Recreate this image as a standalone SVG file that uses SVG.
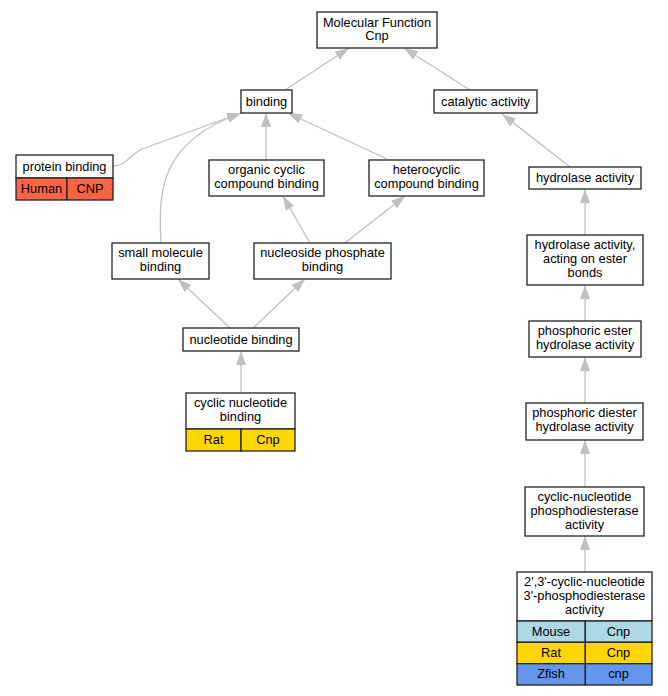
<svg xmlns="http://www.w3.org/2000/svg" width="668" height="696" viewBox="0 0 668 696">
<style>
.n rect{fill:#fff;stroke:#222;stroke-width:1.3}
.n text{font-family:"Liberation Sans",Arial,sans-serif;font-size:12.8px;fill:#000;text-anchor:middle}
#edges path{fill:none;stroke:#c0c0c0;stroke-width:1.3;marker-end:url(#ah)}
.hu{fill:#ff6347!important}
.ra{fill:#ffd700!important}
.mo{fill:#add8e6!important}
.zf{fill:#6495ed!important}
</style>
<defs>
<marker id="ah" markerUnits="userSpaceOnUse" markerWidth="14" markerHeight="10" refX="14" refY="5" orient="auto">
<path d="M0,0 L14,5 L0,10 z" fill="#c0c0c0"/>
</marker>
</defs>
<rect width="668" height="696" fill="#fff"/>
<g id="edges">
<path d="M285,90 L349,48"/>
<path d="M470,90 L404,48"/>
<path d="M570,167 L502,114"/>
<path d="M113,166 C126,166 128,156 142,149 L241,113"/>
<path d="M161,243 C158,190 160,142 241,113"/>
<path d="M266,160 L266,113"/>
<path d="M387,159 L288,113"/>
<path d="M310,243 L283,196"/>
<path d="M345,243 L405,196"/>
<path d="M230,328 L178,279"/>
<path d="M253,328 L305,279"/>
<path d="M241,393 L241,351"/>
<path d="M585,235 L585,189"/>
<path d="M585,321 L585,285"/>
<path d="M585,403 L585,357"/>
<path d="M585,487 L585,440"/>
<path d="M585,572 L585,536"/>
</g>
<g id="mf" class="n"><rect x="317" y="12" width="120" height="36"/><text x="377" y="26.5">Molecular Function</text><text x="377" y="40">Cnp</text></g>
<g id="binding" class="n"><rect x="241" y="90" width="51" height="23"/><text x="266.5" y="106">binding</text></g>
<g id="catalytic" class="n"><rect x="434" y="90" width="103" height="23"/><text x="485.5" y="106">catalytic activity</text></g>
<g id="protein" class="n"><rect x="16" y="155" width="97" height="23"/><text x="64.5" y="171">protein binding</text>
<rect class="hu" x="16" y="178" width="51" height="22"/><rect class="hu" x="67" y="178" width="46" height="22"/><text x="41.5" y="193">Human</text><text x="90" y="193">CNP</text></g>
<g id="organic" class="n"><rect x="209" y="160" width="115" height="36"/><text x="266.5" y="174">organic cyclic</text><text x="266.5" y="188">compound binding</text></g>
<g id="hetero" class="n"><rect x="369" y="160" width="115" height="36"/><text x="426.5" y="174">heterocyclic</text><text x="426.5" y="188">compound binding</text></g>
<g id="hydrolase" class="n"><rect x="529" y="167" width="112" height="22"/><text x="585" y="182">hydrolase activity</text></g>
<g id="small" class="n"><rect x="112" y="243" width="97" height="36"/><text x="160.5" y="257">small molecule</text><text x="160.5" y="271">binding</text></g>
<g id="nucleoside" class="n"><rect x="254" y="243" width="137" height="36"/><text x="322.5" y="257">nucleoside phosphate</text><text x="322.5" y="271">binding</text></g>
<g id="nucleotide" class="n"><rect x="183" y="328" width="116" height="23"/><text x="241" y="344">nucleotide binding</text></g>
<g id="cyclicnb" class="n"><rect x="186" y="393" width="109" height="36"/><text x="240.5" y="407">cyclic nucleotide</text><text x="240.5" y="421">binding</text>
<rect class="ra" x="186" y="429" width="55" height="22"/><rect class="ra" x="241" y="429" width="54" height="22"/><text x="213.5" y="444">Rat</text><text x="268" y="444">Cnp</text></g>
<g id="ester" class="n"><rect x="527" y="235" width="116" height="50"/><text x="585" y="249">hydrolase activity,</text><text x="585" y="263">acting on ester</text><text x="585" y="277">bonds</text></g>
<g id="phosester" class="n"><rect x="529" y="321" width="112" height="36"/><text x="585" y="335">phosphoric ester</text><text x="585" y="349">hydrolase activity</text></g>
<g id="phosdiester" class="n"><rect x="526" y="403" width="117" height="37"/><text x="584.5" y="417">phosphoric diester</text><text x="584.5" y="431">hydrolase activity</text></g>
<g id="cnpde" class="n"><rect x="525" y="487" width="119" height="49"/><text x="584.5" y="501">cyclic-nucleotide</text><text x="584.5" y="515">phosphodiesterase</text><text x="584.5" y="529">activity</text></g>
<g id="cnp23" class="n"><rect x="517" y="572" width="135" height="49"/><text x="584.5" y="586">2',3'-cyclic-nucleotide</text><text x="584.5" y="600">3'-phosphodiesterase</text><text x="584.5" y="614">activity</text>
<rect class="mo" x="517" y="621" width="68.3" height="21.3"/><rect class="mo" x="585.3" y="621" width="66.7" height="21.3"/>
<rect class="ra" x="517" y="642.3" width="68.3" height="21.4"/><rect class="ra" x="585.3" y="642.3" width="66.7" height="21.4"/>
<rect class="zf" x="517" y="663.7" width="68.3" height="21.3"/><rect class="zf" x="585.3" y="663.7" width="66.7" height="21.3"/>
<text x="551" y="635.5">Mouse</text><text x="618.5" y="635.5">Cnp</text>
<text x="551" y="657">Rat</text><text x="618.5" y="657">Cnp</text>
<text x="551" y="678">Zfish</text><text x="618.5" y="678">cnp</text></g>
</svg>
